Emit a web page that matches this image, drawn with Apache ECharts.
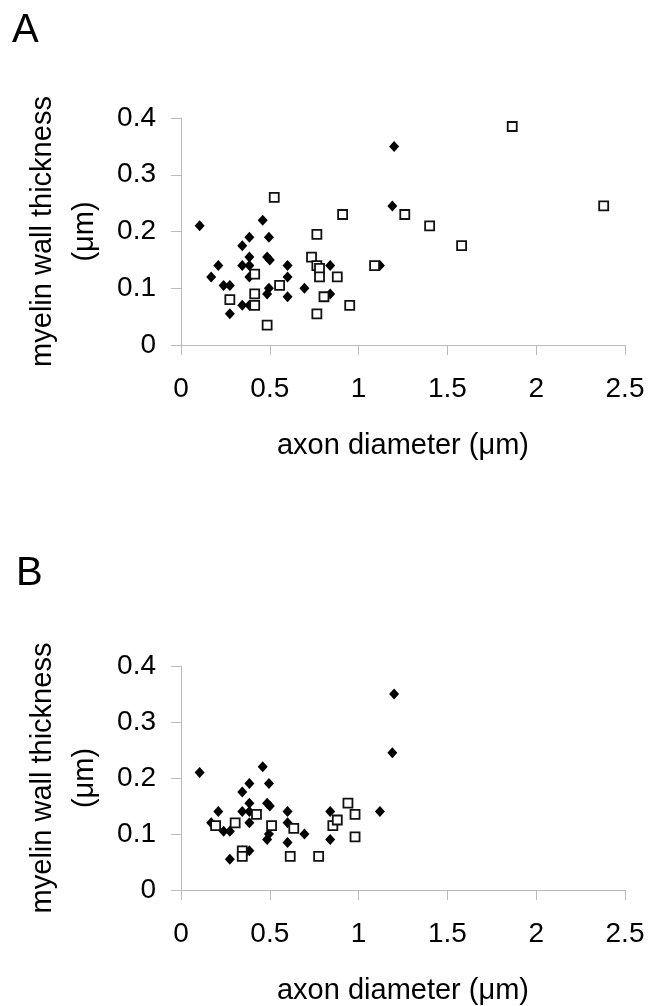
<!DOCTYPE html>
<html>
<head>
<meta charset="utf-8">
<script src="https://cdn.jsdelivr.net/npm/echarts@6/dist/echarts.min.js"></script>
<style>
  body { margin: 0; background: #fff; }
  #chart { width: 649px; height: 1006px; }
</style>
</head>
<body>
<div id="chart"></div>
<script>
// axis ticks
const xTicks = [0, 0.5, 1, 1.5, 2, 2.5]
const yTicks = [0, 0.1, 0.2, 0.3, 0.4]

// filled diamonds, same set in both panels  [axon diameter, myelin wall thickness]
const diamonds = [
  [0.105, 0.21], [0.21, 0.14], [0.17, 0.12], [0.24, 0.105], [0.275, 0.105],
  [0.275, 0.055], [0.345, 0.175], [0.385, 0.19], [0.385, 0.155], [0.345, 0.14],
  [0.385, 0.14], [0.385, 0.12], [0.345, 0.07], [0.385, 0.07], [0.46, 0.22],
  [0.495, 0.19], [0.485, 0.155], [0.5, 0.15], [0.495, 0.1], [0.485, 0.09],
  [0.6, 0.14], [0.6, 0.12], [0.6, 0.085], [0.695, 0.1], [0.84, 0.14],
  [0.84, 0.09], [1.12, 0.14], [1.2, 0.35], [1.19, 0.245]
]

// open squares, panel A
const squaresA = [
  [0.525, 0.26], [0.91, 0.23], [0.765, 0.195], [0.735, 0.155], [0.765, 0.14],
  [0.78, 0.135], [0.78, 0.12], [0.88, 0.12], [0.805, 0.085], [0.95, 0.07],
  [0.765, 0.055], [0.415, 0.125], [0.555, 0.105], [0.415, 0.09], [0.415, 0.07],
  [0.275, 0.08], [0.485, 0.035], [1.09, 0.14], [1.865, 0.385], [1.26, 0.23],
  [1.4, 0.21], [1.58, 0.175], [2.38, 0.245]
]

// open squares, panel B
const squaresB = [
  [0.195, 0.115], [0.305, 0.12], [0.425, 0.135], [0.51, 0.115], [0.635, 0.11],
  [0.345, 0.07], [0.345, 0.06], [0.615, 0.06], [0.775, 0.06], [0.855, 0.115],
  [0.88, 0.125], [0.94, 0.155], [0.98, 0.135], [0.98, 0.095]
]

const font = '"Liberation Sans", Arial, Helvetica, sans-serif'
const axisColor = '#bbb'

const makeX = (gridIndex) => ({
  type: 'value',
  gridIndex,
  min: xTicks[0],
  max: xTicks[xTicks.length - 1],
  interval: xTicks[1] - xTicks[0],
  name: 'axon diameter (\u03bcm)',
  nameLocation: 'middle',
  nameGap: 86,
  nameTextStyle: { fontFamily: font, fontSize: 29, color: '#000' },
  axisLine: { show: true, lineStyle: { color: axisColor, width: 1 } },
  axisTick: { show: true, length: 10, lineStyle: { color: axisColor } },
  axisLabel: { margin: 30, fontFamily: font, fontSize: 28, color: '#000' },
  splitLine: { show: false }
})

const makeY = (gridIndex) => ({
  type: 'value',
  gridIndex,
  min: yTicks[0],
  max: yTicks[yTicks.length - 1],
  interval: yTicks[1] - yTicks[0],
  name: 'myelin wall thickness\n(\u03bcm)',
  nameLocation: 'middle',
  nameRotate: 90,
  nameGap: 75,
  nameTextStyle: { fontFamily: font, fontSize: 29, color: '#000', lineHeight: 42 },
  axisLine: { show: true, lineStyle: { color: axisColor, width: 1 } },
  axisTick: { show: true, length: 10, lineStyle: { color: axisColor } },
  axisLabel: { margin: 25, fontFamily: font, fontSize: 28, color: '#000' },
  splitLine: { show: false }
})

const diamondSeries = (i) => ({
  type: 'scatter',
  xAxisIndex: i,
  yAxisIndex: i,
  symbol: 'diamond',
  symbolSize: [10, 11],
  itemStyle: { color: '#000', opacity: 1 },
  data: diamonds
})

const squareSeries = (i, data) => ({
  type: 'scatter',
  xAxisIndex: i,
  yAxisIndex: i,
  symbol: 'rect',
  symbolSize: 9,
  itemStyle: { color: '#fff', borderColor: '#111', borderWidth: 1.8, opacity: 1 },
  data
})

const chart = echarts.init(document.getElementById('chart'))
chart.setOption({
  backgroundColor: '#fff',
  animation: false,
  title: [
    { text: 'A', left: 7, top: 6, textStyle: { fontFamily: font, fontSize: 40, fontWeight: 'normal', color: '#000' } },
    { text: 'B', left: 11, top: 549, textStyle: { fontFamily: font, fontSize: 40, fontWeight: 'normal', color: '#000' } }
  ],
  grid: [
    { left: 181, top: 118, width: 444, height: 227 },
    { left: 181, top: 666, width: 444, height: 227 }
  ],
  xAxis: [makeX(0), makeX(1)],
  yAxis: [makeY(0), makeY(1)],
  series: [
    diamondSeries(0),
    squareSeries(0, squaresA),
    diamondSeries(1),
    squareSeries(1, squaresB)
  ]
})
</script>
</body>
</html>
